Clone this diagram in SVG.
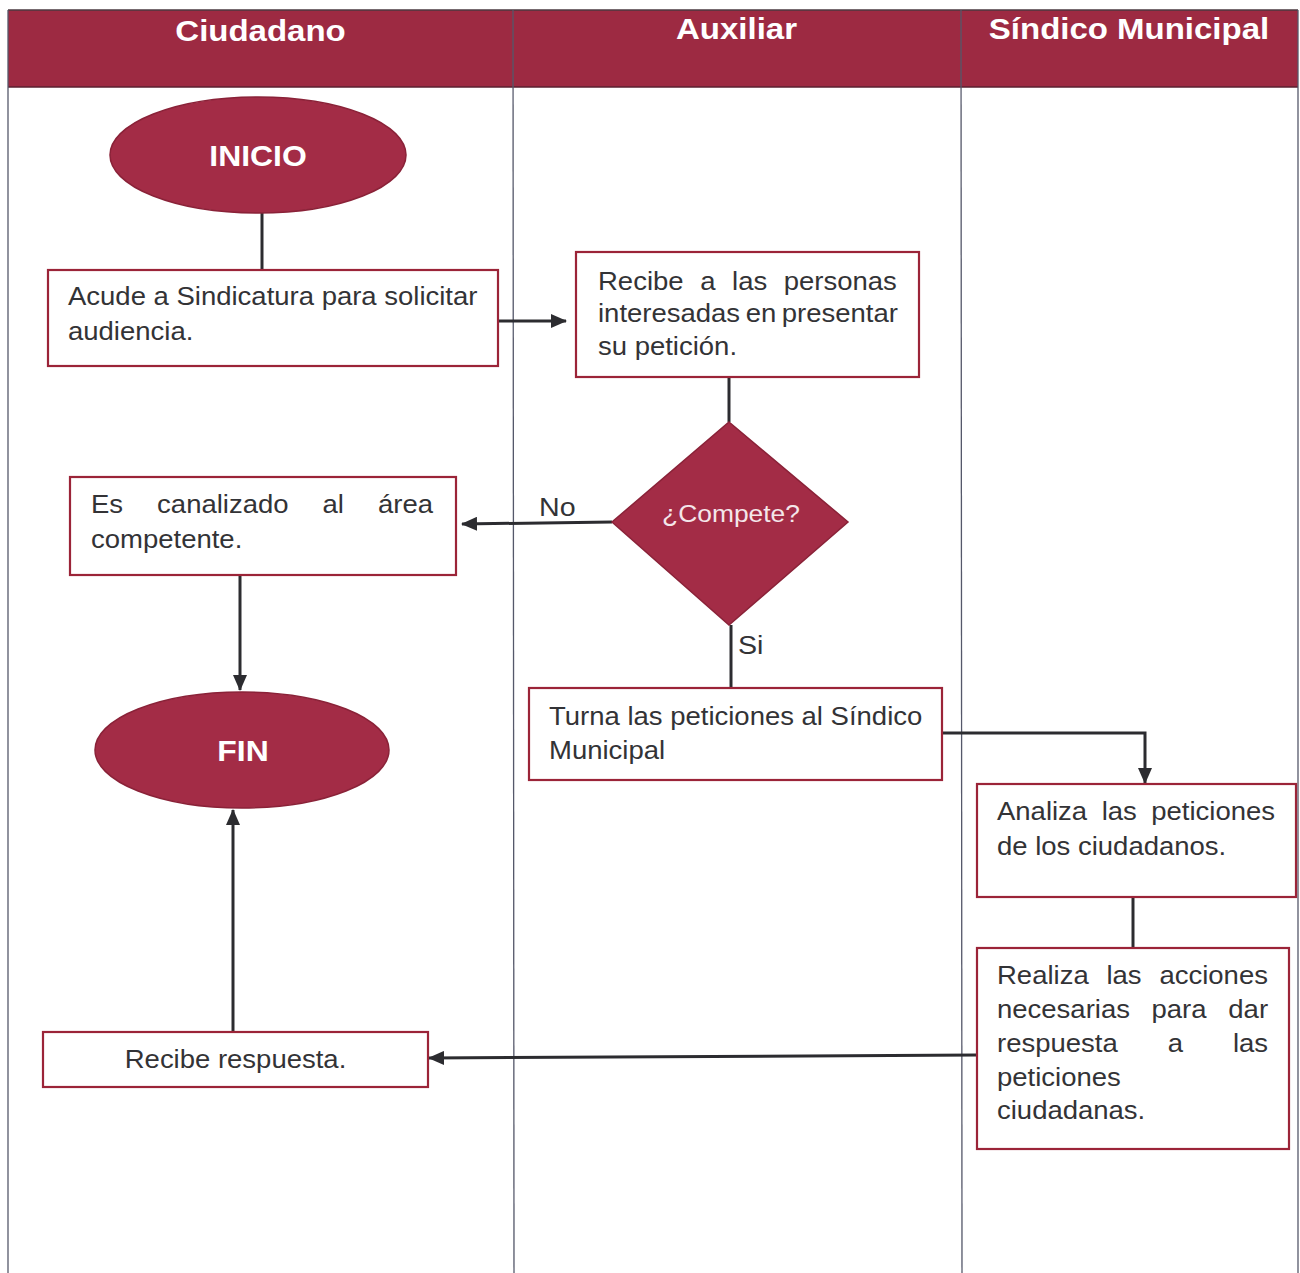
<svg xmlns="http://www.w3.org/2000/svg" width="1300" height="1273" viewBox="0 0 1300 1273">
  <style>
    .lane { stroke: #55586a; stroke-width: 1.3; fill: none; }
    .hdr { fill: #9d2a42; }
    .hdrtxt { font-family: "Liberation Sans", Arial, sans-serif; font-weight: bold; font-size: 30px; fill: #ffffff; text-anchor: middle; }
    .term { fill: #a32c46; stroke: #8a2238; stroke-width: 1.5; }
    .termtxt { font-family: "Liberation Sans", Arial, sans-serif; font-weight: bold; font-size: 29px; fill: #ffffff; text-anchor: middle; }
    .box { fill: #ffffff; stroke: #9b2438; stroke-width: 2.2; }
    .txt { font-family: "Liberation Sans", Arial, sans-serif; font-size: 25px; fill: #333336; }
    .dectxt { font-family: "Liberation Sans", Arial, sans-serif; font-size: 24px; fill: #f4e6ea; text-anchor: middle; }
    .lbl { font-family: "Liberation Sans", Arial, sans-serif; font-size: 26px; fill: #333336; }
    .conn { stroke: #2c2c30; stroke-width: 3; fill: none; }
  </style>
  <defs>
    <marker id="arrow" markerUnits="userSpaceOnUse" markerWidth="16" markerHeight="14" refX="15" refY="7" orient="auto">
      <path d="M0,0 L16,7 L0,14 z" fill="#2c2c30"/>
    </marker>
  </defs>

  <rect x="0" y="0" width="1300" height="1273" fill="#ffffff"/>

  <!-- swimlane header band -->
  <g id="header">
    <rect class="hdr" x="8" y="10" width="1290" height="77"/>
    <line x1="8" y1="10" x2="1298" y2="10" stroke="#4a3a40" stroke-width="1.5"/>
    <line x1="8" y1="87" x2="1298" y2="87" stroke="#5a2030" stroke-width="1.5"/>
    <text class="hdrtxt" transform="matrix(1.1 0 0 1 260.5 0)" x="0" y="41">Ciudadano</text>
    <text class="hdrtxt" transform="matrix(1.1 0 0 1 736.5 0)" x="0" y="39">Auxiliar</text>
    <text class="hdrtxt" transform="matrix(1.1 0 0 1 1129 0)" x="0" y="39">Síndico Municipal</text>
  </g>

  <!-- lane borders -->
  <g id="lanes">
    <line class="lane" x1="8" y1="10" x2="8" y2="1273"/>
    <line class="lane" x1="513" y1="10" x2="514" y2="1273"/>
    <line class="lane" x1="961" y1="10" x2="962" y2="1273"/>
    <line class="lane" x1="1298" y1="10" x2="1298" y2="1273"/>
  </g>

  <!-- connectors -->
  <g id="connectors">
    <line class="conn" x1="262" y1="213" x2="262" y2="270"/>
    <line class="conn" x1="498" y1="321" x2="566" y2="321" marker-end="url(#arrow)"/>
    <line class="conn" x1="729" y1="377" x2="729" y2="422"/>
    <line class="conn" x1="612" y1="522" x2="462" y2="524" marker-end="url(#arrow)"/>
    <line class="conn" x1="731" y1="625" x2="731" y2="688"/>
    <line class="conn" x1="240" y1="575" x2="240" y2="690" marker-end="url(#arrow)"/>
    <path class="conn" d="M942,733 H1145 V783" marker-end="url(#arrow)"/>
    <line class="conn" x1="1133" y1="897" x2="1133" y2="948"/>
    <line class="conn" x1="977" y1="1055" x2="429" y2="1058" marker-end="url(#arrow)"/>
    <line class="conn" x1="233" y1="1031" x2="233" y2="810" marker-end="url(#arrow)"/>
    <text class="lbl" transform="matrix(1.1 0 0 1 539 0)" x="0" y="516">No</text>
    <text class="lbl" transform="matrix(1.1 0 0 1 738 0)" x="0" y="654">Si</text>
  </g>

  <g id="inicio">
    <ellipse class="term" cx="258" cy="155" rx="148" ry="58"/>
    <text class="termtxt" transform="matrix(1.1 0 0 1 258 0)" x="0" y="166">INICIO</text>
  </g>

  <g id="acude">
    <rect class="box" x="48" y="270" width="450" height="96"/>
    <text class="txt" transform="matrix(1.1 0 0 1 68 0)">
      <tspan x="0" y="305">Acude a Sindicatura para solicitar</tspan>
      <tspan x="0" y="340">audiencia.</tspan>
    </text>
  </g>

  <g id="recibe-personas">
    <rect class="box" x="576" y="252" width="343" height="125"/>
    <text class="txt" transform="matrix(1.1 0 0 1 598 0)">
      <tspan x="0" y="290">Recibe</tspan><tspan x="92.9" y="290">a</tspan><tspan x="121.9" y="290">las</tspan><tspan x="168.9" y="290">personas</tspan>
      <tspan x="0" y="322">interesadas</tspan><tspan x="134.3" y="322">en</tspan><tspan x="167.1" y="322">presentar</tspan>
      <tspan x="0" y="355">su petición.</tspan>
    </text>
  </g>

  <g id="compete">
    <polygon class="term" points="729,422 848,522 729,625 612,522"/>
    <text class="dectxt" transform="matrix(1.1 0 0 1 731 0)" x="0" y="522">¿Compete?</text>
  </g>

  <g id="canalizado">
    <rect class="box" x="70" y="477" width="386" height="98"/>
    <text class="txt" transform="matrix(1.1 0 0 1 91 0)">
      <tspan x="0" y="513">Es</tspan><tspan x="60.1" y="513">canalizado</tspan><tspan x="210.5" y="513">al</tspan><tspan x="260.9" y="513">área</tspan>
      <tspan x="0" y="548">competente.</tspan>
    </text>
  </g>

  <g id="fin">
    <ellipse class="term" cx="242" cy="750" rx="147" ry="58"/>
    <text class="termtxt" transform="matrix(1.1 0 0 1 243 0)" x="0" y="761">FIN</text>
  </g>

  <g id="turna">
    <rect class="box" x="529" y="688" width="413" height="92"/>
    <text class="txt" transform="matrix(1.1 0 0 1 549 0)">
      <tspan x="0" y="725">Turna las peticiones al Síndico</tspan>
      <tspan x="0" y="759">Municipal</tspan>
    </text>
  </g>

  <g id="analiza">
    <rect class="box" x="977" y="784" width="319" height="113"/>
    <text class="txt" transform="matrix(1.1 0 0 1 997 0)">
      <tspan x="0" y="820">Analiza</tspan><tspan x="95.2" y="820">las</tspan><tspan x="140.2" y="820">peticiones</tspan>
      <tspan x="0" y="855">de los ciudadanos.</tspan>
    </text>
  </g>

  <g id="realiza">
    <rect class="box" x="977" y="948" width="312" height="201"/>
    <text class="txt" transform="matrix(1.1 0 0 1 997 0)">
      <tspan x="0" y="984">Realiza</tspan><tspan x="99.5" y="984">las</tspan><tspan x="147.7" y="984">acciones</tspan>
      <tspan x="0" y="1018">necesarias</tspan><tspan x="140.5" y="1018">para</tspan><tspan x="210.3" y="1018">dar</tspan>
      <tspan x="0" y="1052">respuesta</tspan><tspan x="155.2" y="1052">a</tspan><tspan x="214.5" y="1052">las</tspan>
      <tspan x="0" y="1086">peticiones</tspan>
      <tspan x="0" y="1119">ciudadanas.</tspan>
    </text>
  </g>

  <g id="recibe-respuesta">
    <rect class="box" x="43" y="1032" width="385" height="55"/>
    <text class="txt" transform="matrix(1.1 0 0 1 235.5 0)" x="0" y="1068" text-anchor="middle">Recibe respuesta.</text>
  </g>
</svg>
